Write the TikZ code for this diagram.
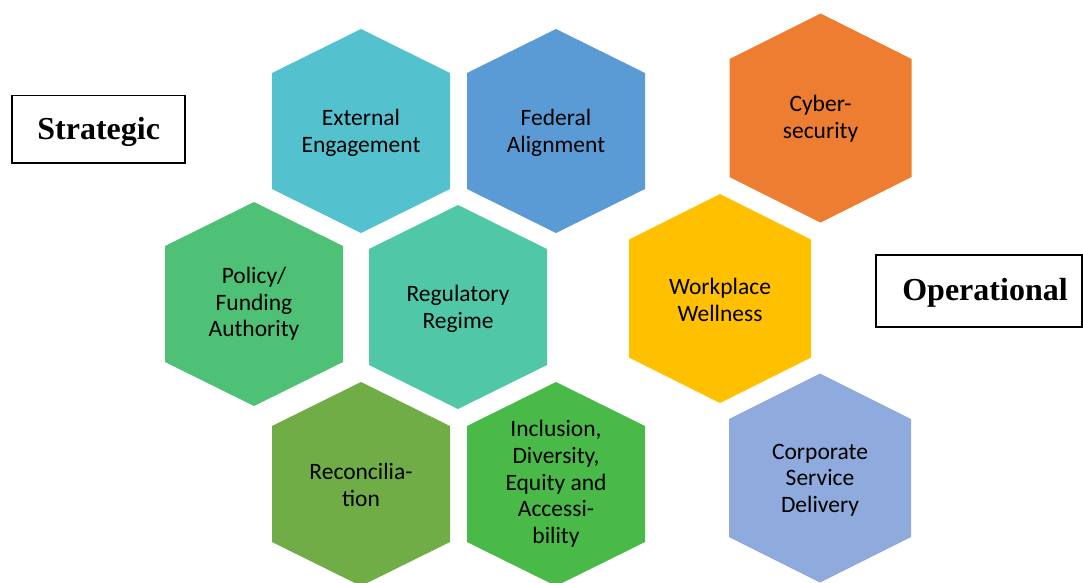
\documentclass[tikz,border=0pt]{standalone}
\usepackage{fontspec}
\newfontfamily\hexfont{Carlito}
\newfontfamily\boxfont{Liberation Serif}
\definecolor{cEE}{HTML}{54C1CE}
\definecolor{cFA}{HTML}{5B9BD5}
\definecolor{cPF}{HTML}{4EC176}
\definecolor{cRR}{HTML}{50C8A8}
\definecolor{cRC}{HTML}{70AD47}
\definecolor{cID}{HTML}{49BA48}
\definecolor{cCY}{HTML}{ED7D31}
\definecolor{cWW}{HTML}{FFC000}
\definecolor{cCS}{HTML}{8FAADC}
\newcommand\hexL[3]{\fill[#3,shift={(#1,#2)}] (0,-102) -- (89,-58) -- (89,58) -- (0,102) -- (-89,58) -- (-89,-58) -- cycle;}
\newcommand\hexR[3]{\fill[#3,shift={(#1,#2)}] (0,-104.5) -- (91,-59) -- (91,59) -- (0,104.5) -- (-91,59) -- (-91,-59) -- cycle;}
\begin{document}
\begin{tikzpicture}[x=1pt,y=-1pt,
  hexlabel/.style={align=center,font=\hexfont\fontsize{23.5}{26.7}\selectfont,text=black,inner sep=0pt},
  catbox/.style={draw=black,line width=1.5pt,fill=white,font=\boxfont\bfseries\fontsize{32}{36}\selectfont,inner sep=0pt}]
\useasboundingbox (0,0) rectangle (1083,582);
\clip (0,0) rectangle (1083,582);
% hexagons
\hexL{361}{131}{cEE}
\hexL{556}{131}{cFA}
\hexL{254}{304}{cPF}
\hexL{458}{307}{cRR}
\hexL{361}{484}{cRC}
\hexL{556}{484}{cID}
\hexR{820.5}{118}{cCY}
\hexR{720}{298.5}{cWW}
\hexR{820}{478}{cCS}
% labels
\node[hexlabel] (ee) at (361,133) {External\\Engagement};
\node[hexlabel] (fa) at (556,133) {Federal\\Alignment};
\node[hexlabel] (pf) at (254,304) {Policy/\\Funding\\Authority};
\node[hexlabel] (rr) at (458,309) {Regulatory\\Regime};
\node[hexlabel] (rc) at (361,485) {Reconcilia-\\tion};
\node[hexlabel] (id) at (556,484) {Inclusion,\\Diversity,\\Equity and\\Accessi-\\bility};
\node[hexlabel] (cy) at (820.5,119) {Cyber-\\security};
\node[hexlabel] (ww) at (720,300) {Workplace\\Wellness};
\node[hexlabel] (cs) at (820,480) {Corporate\\Service\\Delivery};
% category boxes
\node[catbox,minimum width=173pt,minimum height=67.5pt] (strat) at (98.7,129) {};
\node[font=\boxfont\bfseries\fontsize{32}{36}\selectfont,inner sep=0pt] (strattext) at (98.7,132) {Strategic};
\node[catbox,minimum width=206pt,minimum height=72pt] (oper) at (979,291) {};
\node[font=\boxfont\bfseries\fontsize{32}{36}\selectfont,inner sep=0pt] (opertext) at (985,293) {Operational};
\end{tikzpicture}
\end{document}
